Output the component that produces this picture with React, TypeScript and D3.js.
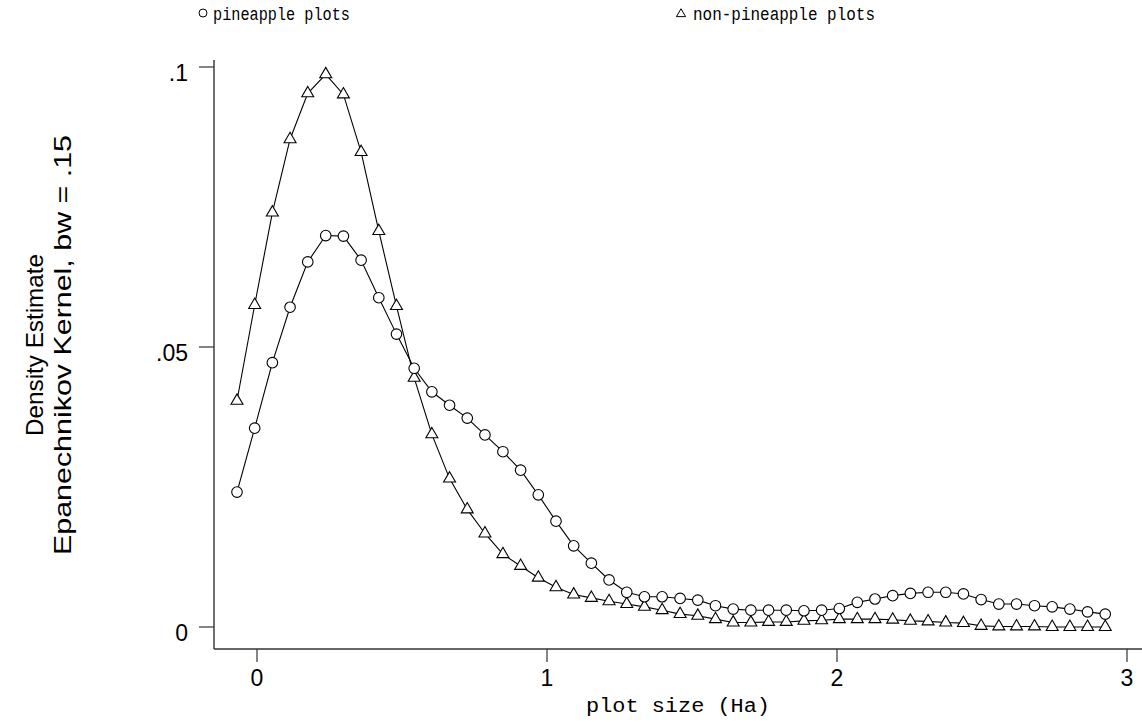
import React, { useEffect, useRef } from 'react';
import * as d3 from 'd3';

// evaluation grid of the density estimate (plot size, Ha)
const plotSize = [
  -0.069, -0.008, 0.053, 0.114, 0.175, 0.237, 0.298, 0.359, 0.42, 0.481,
  0.542, 0.603, 0.664, 0.725, 0.786, 0.848, 0.909, 0.97, 1.031, 1.092,
  1.153, 1.214, 1.275, 1.336, 1.397, 1.459, 1.52, 1.581, 1.642, 1.703,
  1.764, 1.825, 1.886, 1.947, 2.008, 2.07, 2.131, 2.192, 2.253, 2.314,
  2.375, 2.436, 2.497, 2.558, 2.619, 2.681, 2.742, 2.803, 2.864, 2.925,
];

const pineapple = [
  0.0241, 0.0355, 0.0472, 0.0571, 0.0652, 0.0699, 0.0698, 0.0655, 0.0588, 0.0523,
  0.0462, 0.042, 0.0396, 0.0373, 0.0343, 0.0313, 0.028, 0.0236, 0.0189, 0.0145,
  0.0114, 0.0084, 0.0062, 0.0054, 0.0054, 0.0051, 0.0048, 0.0038, 0.0032, 0.003,
  0.003, 0.003, 0.0029, 0.003, 0.0033, 0.0044, 0.005, 0.0056, 0.006, 0.0062,
  0.0062, 0.0059, 0.0049, 0.0041, 0.0041, 0.0038, 0.0036, 0.0032, 0.0027, 0.0023,
];

const nonPineapple = [
  0.0404, 0.0575, 0.074, 0.0871, 0.0953, 0.0987, 0.0951, 0.0848, 0.0707, 0.0573,
  0.0445, 0.0344, 0.0265, 0.021, 0.0167, 0.013, 0.0109, 0.0088, 0.0071, 0.0058,
  0.0052, 0.0046, 0.0041, 0.0036, 0.003, 0.0023, 0.002, 0.0014, 0.0008, 0.0008,
  0.0009, 0.0009, 0.0011, 0.0012, 0.0014, 0.0014, 0.0014, 0.0013, 0.0011, 0.001,
  0.0008, 0.0007, 0.0002, 0.0001, 0.0001, 0.0001, 0, 0, 0, 0,
];

const xTicks = [0, 1, 2, 3];
const yTicks = [0, 0.05, 0.1];
const yTickLabels = ['0', '.05', '.1'];

const App: React.FC = () => {
  const svgRef = useRef<SVGSVGElement | null>(null);

  useEffect(() => {
    document.body.style.margin = '0';
    if (!svgRef.current) return;
    const svg = d3.select(svgRef.current);
    svg.selectAll('*').remove();

    const width = 1142;
    const height = 722;
    const axisLeft = 214;
    const axisBottom = 649;
    const serif = "'Liberation Mono', 'DejaVu Sans Mono', monospace";
    const sans = "'Liberation Sans', Arial, sans-serif";

    svg.append('rect').attr('width', width).attr('height', height).attr('fill', '#fff');

    // Set up scales
    const x = d3.scaleLinear().domain([0, 3]).range([257, 1127]);
    const y = d3.scaleLinear().domain([0, 0.1]).range([627, 67]);

    // axes frame
    svg.append('line')
      .attr('x1', axisLeft).attr('x2', axisLeft)
      .attr('y1', 60).attr('y2', axisBottom)
      .attr('stroke', '#333').attr('stroke-width', 1.4);
    svg.append('line')
      .attr('x1', axisLeft).attr('x2', width)
      .attr('y1', axisBottom).attr('y2', axisBottom)
      .attr('stroke', '#333').attr('stroke-width', 1.4);

    // y ticks
    yTicks.forEach((t, i) => {
      svg.append('line')
        .attr('x1', axisLeft - 15).attr('x2', axisLeft)
        .attr('y1', y(t)).attr('y2', y(t))
        .attr('stroke', '#333').attr('stroke-width', 1.2);
      svg.append('text')
        .attr('x', 188).attr('y', y(t) + 14)
        .attr('text-anchor', 'end')
        .attr('font-family', sans).attr('font-size', 23)
        .text(yTickLabels[i]);
    });

    // x ticks
    xTicks.forEach(t => {
      svg.append('line')
        .attr('x1', x(t)).attr('x2', x(t))
        .attr('y1', axisBottom).attr('y2', axisBottom + 13)
        .attr('stroke', '#333').attr('stroke-width', 1.2);
      svg.append('text')
        .attr('x', x(t)).attr('y', 686)
        .attr('text-anchor', 'middle')
        .attr('font-family', sans).attr('font-size', 23)
        .text(String(t));
    });

    // axis titles
    svg.append('text')
      .attr('x', 678).attr('y', 712)
      .attr('text-anchor', 'middle')
      .attr('font-family', serif).attr('font-size', 20)
      .attr('textLength', 184).attr('lengthAdjust', 'spacingAndGlyphs')
      .text('plot size (Ha)');

    const yTitle = svg.append('g').attr('transform', 'translate(0,345) rotate(-90)');
    yTitle.append('text')
      .attr('x', 0).attr('y', 43)
      .attr('text-anchor', 'middle')
      .attr('font-family', sans).attr('font-size', 24)
      .attr('textLength', 182).attr('lengthAdjust', 'spacingAndGlyphs')
      .text('Density Estimate');
    yTitle.append('text')
      .attr('x', 0).attr('y', 71)
      .attr('text-anchor', 'middle')
      .attr('font-family', sans).attr('font-size', 24)
      .attr('textLength', 420).attr('lengthAdjust', 'spacingAndGlyphs')
      .text('Epanechnikov Kernel, bw = .15');

    // lines
    const line = d3.line<number>()
      .x((_, i) => x(plotSize[i]))
      .y(d => y(d));

    [pineapple, nonPineapple].forEach(series => {
      svg.append('path')
        .datum(series)
        .attr('fill', 'none')
        .attr('stroke', '#000')
        .attr('stroke-width', 1.1)
        .attr('d', line);
    });

    const circle = d3.symbol().type(d3.symbolCircle).size(88);
    const triangle = d3.symbol().type(d3.symbolTriangle).size(62);

    svg.append('g').selectAll('path')
      .data(nonPineapple)
      .join('path')
      .attr('transform', (d, i) => `translate(${x(plotSize[i])},${y(d)})`)
      .attr('d', triangle() as string)
      .attr('fill', '#fff')
      .attr('stroke', '#000')
      .attr('stroke-width', 1.1);

    svg.append('g').selectAll('path')
      .data(pineapple)
      .join('path')
      .attr('transform', (d, i) => `translate(${x(plotSize[i])},${y(d)})`)
      .attr('d', circle() as string)
      .attr('fill', '#fff')
      .attr('stroke', '#000')
      .attr('stroke-width', 1.1);

    // legend
    svg.append('circle')
      .attr('cx', 203).attr('cy', 13).attr('r', 4)
      .attr('fill', 'none').attr('stroke', '#000').attr('stroke-width', 1);
    svg.append('text')
      .attr('x', 213).attr('y', 20)
      .attr('font-family', serif).attr('font-size', 19)
      .attr('textLength', 137).attr('lengthAdjust', 'spacingAndGlyphs')
      .text('pineapple plots');
    svg.append('path')
      .attr('transform', 'translate(681,14)')
      .attr('d', d3.symbol().type(d3.symbolTriangle).size(36)() as string)
      .attr('fill', 'none').attr('stroke', '#000').attr('stroke-width', 1);
    svg.append('text')
      .attr('x', 693).attr('y', 20)
      .attr('font-family', serif).attr('font-size', 19)
      .attr('textLength', 182).attr('lengthAdjust', 'spacingAndGlyphs')
      .text('non-pineapple plots');
  }, []);

  return (
    <svg ref={svgRef} width={1142} height={722} style={{ display: 'block' }} />
  );
};

export default App;
